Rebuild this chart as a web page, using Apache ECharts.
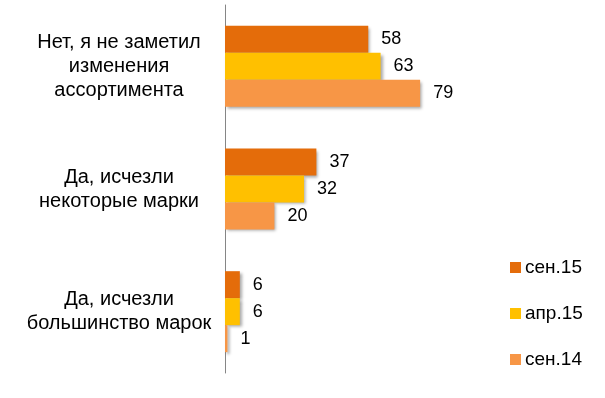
<!DOCTYPE html>
<html>
<head>
<meta charset="UTF-8">
<title>bar</title>
<script type="text/javascript" src="https://cdn.jsdelivr.net/npm/echarts@6/dist/echarts.min.js"></script>
<style>
body { margin: 0; background: #fff; }
</style>
</head>
<body>
<div id="main" style="width: 605px; height: 398px"></div>

<script type="text/javascript">
	// категории и ряды
	var categories = ['Нет, я не заметил\nизменения\nассортимента', 'Да, исчезли\nнекоторые марки', 'Да, исчезли\nбольшинство марок'];
	var seriesNames = ['сен.15', 'апр.15', 'сен.14'];
	var sep15 = [58, 37, 6];
	var apr15 = [63, 32, 6];
	var sep14 = [79, 20, 1];
	var colors = ['#E46C0A', '#FFC000', '#F79646'];

	var mychart = echarts.init(document.getElementById('main'));

	function makeSeries(name, data, color) {
		return {
			name: name,
			type: 'bar',
			data: data,
			barGap: '0%',
			barCategoryGap: '34%',
			itemStyle: {
				color: color,
				shadowColor: 'rgba(0,0,0,0.35)',
				shadowBlur: 3,
				shadowOffsetX: 2,
				shadowOffsetY: 2
			},
			label: {
				show: true,
				position: 'right',
				distance: 13,
				color: '#000',
				fontFamily: 'Liberation Sans, Arial',
				fontSize: 18
			}
		};
	}

	var option = {
		animation: false,
		textStyle: { fontFamily: 'Liberation Sans, Arial' },
		grid: {
			left: 225,
			top: 5,
			width: 247,
			height: 368
		},
		legend: {
			orient: 'vertical',
			left: 505,
			top: 253,
			itemWidth: 11,
			itemHeight: 11,
			itemGap: 27,
			icon: 'rect',
			textStyle: { fontSize: 19, color: '#000', padding: [0, 0, 0, -1] },
			data: seriesNames
		},
		xAxis: {
			type: 'value',
			min: 0,
			max: 100,
			show: false
		},
		yAxis: {
			type: 'category',
			inverse: true,
			data: categories,
			axisLine: { lineStyle: { color: '#868686', width: 1 } },
			axisTick: { show: false },
			axisLabel: {
				align: 'center',
				margin: 106,
				color: '#000',
				fontSize: 20,
				lineHeight: 24
			}
		},
		series: [
			makeSeries(seriesNames[0], sep15, colors[0]),
			makeSeries(seriesNames[1], apr15, colors[1]),
			makeSeries(seriesNames[2], sep14, colors[2])
		]
	};

	mychart.setOption(option);
</script>
</body>
</html>
